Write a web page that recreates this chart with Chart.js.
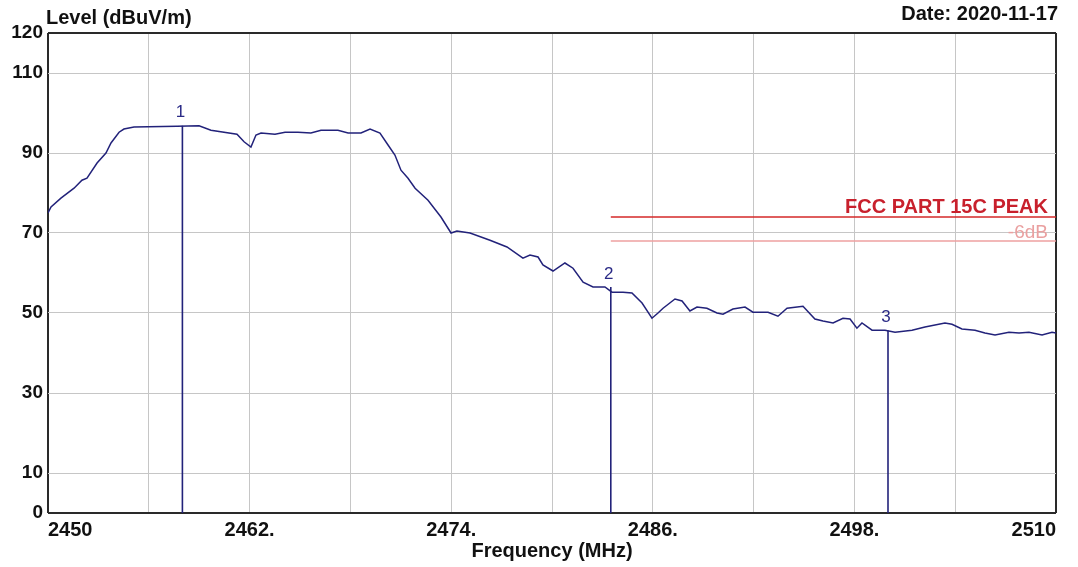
<!DOCTYPE html>
<html>
<head>
<meta charset="utf-8">
<script src="https://cdn.jsdelivr.net/npm/chart.js@4"></script>
<style>
  html, body { margin: 0; padding: 0; background: #fff; }
  #wrap { width: 1078px; height: 567px; }
</style>
</head>
<body>
<div id="wrap"><canvas id="emi" width="1078" height="567"></canvas></div>
<script>
// Spectrum trace (MHz, dBuV/m)
const freqs = [
  2450.0, 2450.18, 2450.77, 2451.55, 2452.02, 2452.32, 2452.92, 2453.45, 2453.75, 2454.23,
  2454.52, 2455.12, 2457.68, 2458.99, 2459.7, 2461.25, 2461.67, 2462.08, 2462.38, 2462.68,
  2463.51, 2464.11, 2464.88, 2465.65, 2466.25, 2467.26, 2467.86, 2468.63, 2469.17, 2469.76,
  2470.24, 2470.65, 2471.01, 2471.43, 2471.85, 2472.62, 2473.39, 2473.99, 2474.34, 2475.12,
  2476.31, 2477.32, 2478.27, 2478.69, 2479.17, 2479.46, 2480.06, 2480.77, 2481.25, 2481.85,
  2482.44, 2483.15, 2483.57, 2484.23, 2484.76, 2485.36, 2485.95, 2486.31, 2486.61, 2487.32,
  2487.74, 2488.21, 2488.63, 2489.22, 2489.82, 2490.18, 2490.77, 2491.49, 2491.96, 2492.86,
  2493.45, 2493.99, 2494.94, 2495.65, 2496.13, 2496.73, 2497.32, 2497.74, 2498.15, 2498.45,
  2499.05, 2499.82, 2500.42, 2501.43, 2502.2, 2503.39, 2503.81, 2504.4, 2505.18, 2505.77,
  2506.37, 2507.2, 2507.8, 2508.39, 2509.17, 2509.76, 2510.0
];
const levels = [
  75.0, 76.5, 78.7, 81.2, 83.2, 83.7, 87.5, 90.0, 92.5, 95.2,
  96.0, 96.5, 96.7, 96.8, 95.7, 94.7, 92.8, 91.5, 94.5, 95.0,
  94.7, 95.2, 95.2, 95.0, 95.7, 95.7, 95.0, 95.0, 96.0, 95.0,
  92.0, 89.5, 85.7, 83.7, 81.2, 78.2, 74.0, 70.0, 70.5, 70.0,
  68.2, 66.5, 63.7, 64.5, 64.0, 62.0, 60.5, 62.5, 61.2, 57.7,
  56.5, 56.5, 55.2, 55.2, 55.0, 52.5, 48.7, 50.0, 51.2, 53.5,
  53.0, 50.5, 51.5, 51.2, 50.0, 49.7, 51.0, 51.5, 50.2, 50.2,
  49.2, 51.2, 51.7, 48.5, 48.0, 47.5, 48.7, 48.5, 46.2, 47.5,
  45.7, 45.7, 45.2, 45.7, 46.5, 47.5, 47.2, 46.0, 45.7, 45.0,
  44.5, 45.2, 45.0, 45.2, 44.5, 45.2, 45.0
];

// Markers
const markerNames = ["1", "2", "3"];
const markerFreqs = [2458.0, 2483.5, 2500.0];
const markerLevels = [96.8, 56.5, 45.6];

// Limit lines
const limitFreqs = [2483.5, 2510];
const limitPeak = 74;
const limitMargin = 68;

// Axis ticks
const yTicks = [0, 10, 30, 50, 70, 90, 110, 120];
const xLabelTicks = [2450, 2462, 2474, 2486, 2498, 2510];

const FONT = "'Liberation Sans', Arial, sans-serif";
const TRACE = "#22227a";
const FRAME = "#2a2a2a";
const GRID = "#c6c6c6";

const traceData = freqs.map((f, i) => ({ x: f, y: levels[i] }));

const markerSets = markerFreqs.map((f, i) => ({
  label: "marker " + markerNames[i],
  data: [{ x: f, y: 0 }, { x: f, y: markerLevels[i] }],
  borderColor: TRACE,
  borderWidth: 1.6,
  pointRadius: 0,
  fill: false,
}));

// Marker numbers, header texts and limit labels
const annotations = {
  id: "annotations",
  afterDatasetsDraw(chart) {
    const { ctx, chartArea, scales } = chart;
    ctx.save();
    ctx.textBaseline = "middle";

    ctx.fillStyle = "#111";
    ctx.font = `bold 20px ${FONT}`;
    ctx.textAlign = "left";
    ctx.fillText("Level (dBuV/m)", chartArea.left - 2, 18);
    ctx.textAlign = "right";
    ctx.fillText("Date: 2020-11-17", chartArea.right + 2, 14);

    ctx.font = `17px ${FONT}`;
    ctx.fillStyle = "#2a2a86";
    ctx.textAlign = "center";
    markerFreqs.forEach((f, i) => {
      const x = scales.x.getPixelForValue(f);
      const y = scales.y.getPixelForValue(markerLevels[i]);
      ctx.fillText(markerNames[i], x - 2, y - 13);
    });

    ctx.textAlign = "right";
    ctx.textBaseline = "alphabetic";
    ctx.font = `bold 20px ${FONT}`;
    ctx.fillStyle = "#c8202c";
    ctx.fillText("FCC PART 15C PEAK", chartArea.right - 8, scales.y.getPixelForValue(limitPeak) - 4);
    ctx.font = `19px ${FONT}`;
    ctx.fillStyle = "#eaa0a0";
    ctx.fillText("-6dB", chartArea.right - 8, scales.y.getPixelForValue(limitMargin) - 3);
    ctx.restore();
  },
};

new Chart(document.getElementById("emi"), {
  type: "line",
  data: {
    datasets: [
      {
        label: "trace",
        data: traceData,
        borderColor: TRACE,
        borderWidth: 1.5,
        pointRadius: 0,
        tension: 0,
        fill: false,
      },
      ...markerSets,
      {
        label: "FCC PART 15C PEAK",
        data: limitFreqs.map((f) => ({ x: f, y: limitPeak })),
        borderColor: "#d42828",
        borderWidth: 1.6,
        pointRadius: 0,
      },
      {
        label: "-6dB",
        data: limitFreqs.map((f) => ({ x: f, y: limitMargin })),
        borderColor: "#eea0a0",
        borderWidth: 1.3,
        pointRadius: 0,
      },
    ],
  },
  options: {
    responsive: false,
    animation: false,
    events: [],
    layout: { padding: { top: 33, right: 22, left: 0, bottom: 0 } },
    plugins: { legend: { display: false }, tooltip: { enabled: false } },
    scales: {
      x: {
        type: "linear",
        min: 2450,
        max: 2510,
        afterBuildTicks: (scale) => {
          const t = [];
          for (let v = 2450; v <= 2510; v += 6) t.push({ value: v });
          scale.ticks = t;
        },
        afterFit: (scale) => { scale.height = 54; },
        border: { display: false },
        grid: {
          drawTicks: false,
          color: (c) => (c.tick.value === 2450 || c.tick.value === 2510 ? FRAME : GRID),
          lineWidth: (c) => (c.tick.value === 2450 || c.tick.value === 2510 ? 2 : 1),
        },
        ticks: {
          autoSkip: false,
          maxRotation: 0,
          align: "inner",
          padding: 5,
          color: "#111",
          font: { family: FONT, size: 20, weight: "bold" },
          callback: (v) => {
            if (!xLabelTicks.includes(v)) return "";
            return v === 2450 || v === 2510 ? String(v) : v + ".";
          },
        },
        title: {
          display: true,
          text: "Frequency (MHz)",
          color: "#111",
          font: { family: FONT, size: 20, weight: "bold" },
          padding: { top: 0, bottom: 4 },
        },
      },
      y: {
        min: 0,
        max: 120,
        afterBuildTicks: (scale) => {
          scale.ticks = yTicks.map((v) => ({ value: v }));
        },
        afterFit: (scale) => { scale.width = 48; },
        border: { display: false },
        grid: {
          drawTicks: false,
          color: (c) => (c.tick.value === 0 || c.tick.value === 120 ? FRAME : GRID),
          lineWidth: (c) => (c.tick.value === 0 || c.tick.value === 120 ? 2 : 1),
        },
        ticks: {
          padding: 5,
          color: "#111",
          font: { family: FONT, size: 19, weight: "bold" },
        },
      },
    },
  },
  plugins: [annotations],
});
</script>
</body>
</html>
